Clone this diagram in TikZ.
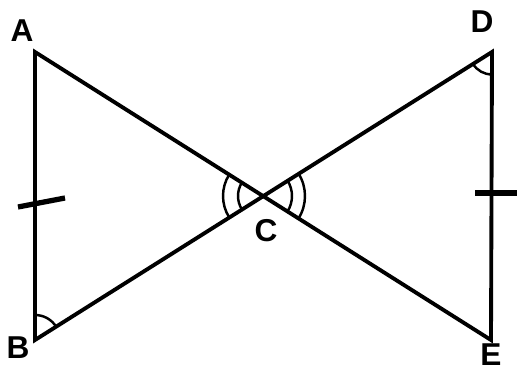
\documentclass[tikz,border=0pt]{standalone}
\usepackage{fontspec}
\setmainfont{Liberation Sans}
\usetikzlibrary{angles}

\tikzset{
  lbl/.style={font=\fontsize{18}{18}\selectfont\bfseries, inner sep=0pt},
  mark arc/.style={draw, line width=1.4pt},
  tickmark/.style={line width=3pt}
}

\begin{document}
\begin{tikzpicture}[x=0.02cm, y=-0.02cm, line width=2.2pt]
    \useasboundingbox (0,0) rectangle (518,371);
    \coordinate (A) at (35,52);
    \coordinate (B) at (35,340);
    \coordinate (D) at (492,52);
    \coordinate (E) at (491,340);
    \coordinate (C) at (263,196);
    \node[lbl] (la) at (22,31) {A};
    \node[lbl] (lb) at (18,348) {B};
    \node[lbl] (lc) at (266,231) {C};
    \node[lbl] (ld) at (482,22) {D};
    \node[lbl] (le) at (491,355) {E};
    \draw[line join=miter] (A) -- (B) -- (D) -- (E) -- cycle;
    % equal sides
    \draw[tickmark] (18,207) -- (65,198);
    \draw[tickmark] (475,193) -- (517,193);
    % equal angles
    \pic[mark arc, angle radius=0.5cm] {angle = D--B--A};
    \pic[mark arc, angle radius=0.45cm] {angle = B--D--E};
    \pic[mark arc, angle radius=0.5cm] {angle = A--C--B};
    \pic[mark arc, angle radius=0.8cm] {angle = A--C--B};
    \pic[mark arc, angle radius=0.58cm] {angle = E--C--D};
    \pic[mark arc, angle radius=0.84cm] {angle = E--C--D};
\end{tikzpicture}
\end{document}
